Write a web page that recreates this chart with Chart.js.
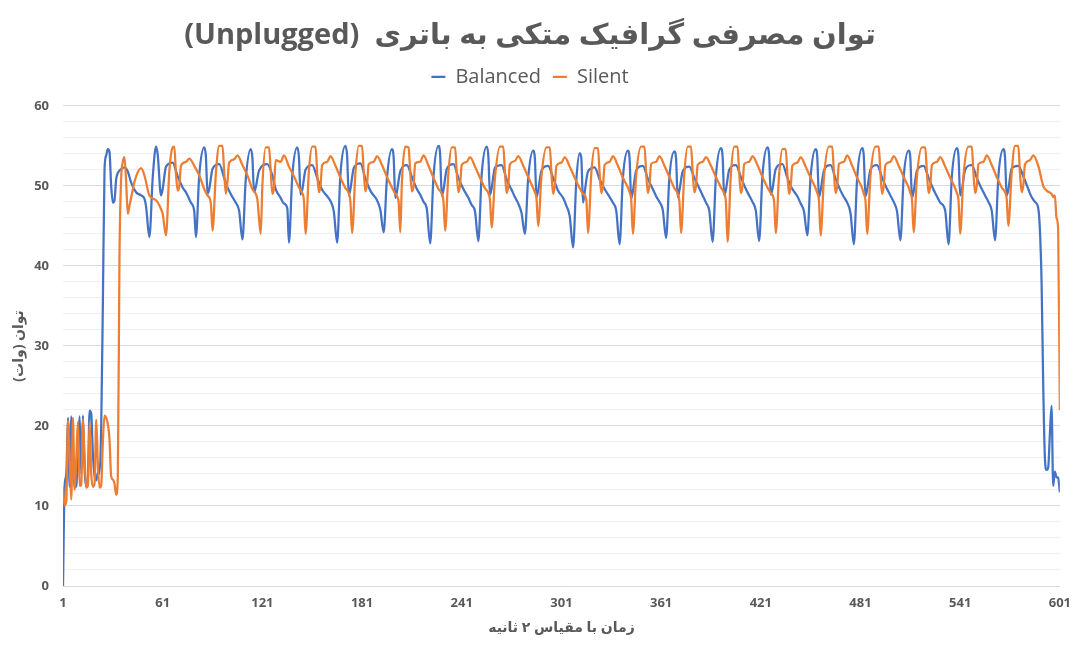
<!DOCTYPE html>
<html>
<head>
<meta charset="utf-8">
<script src="https://cdn.jsdelivr.net/npm/chart.js@4.4.1/dist/chart.umd.min.js"></script>
<style>
  html, body { margin: 0; padding: 0; background: #fff; }
  #wrap { width: 1080px; height: 648px; }
</style>
</head>
<body>
<div id="wrap"><canvas id="myChart" dir="rtl"></canvas></div>
<script>
// time index (2 s steps) and power (W)
const balancedTime = [
  1,2,3,4,5,6,7,8,9,10,11,12,13,14,15,16,17,18,19,20,21,22,23,24,25,26,27,28,29,30,31,32,33,34,36,38,40,42,45,48,50,51,
  53,55,57,58,60,61,63,67,70,73,75,78,80,
  81,83,86,87,88,89,91,95,98,100,103,105,107,
  109,111,114,115,116,117,119,124,127,129,132,134,136,
  137,139,142,143,144,145,147,151,154,157,160,162,164,
  166,168,171,172,173,174,176,180,183,186,188,190,192,
  194,196,199,200,201,202,204,208,211,214,216,218,220,
  222,224,227,228,229,230,232,236,239,242,245,247,249,
  251,253,256,257,258,259,261,265,268,271,273,275,277,
  279,281,284,285,286,287,289,293,296,299,302,304,306,
  308,310,312,313,314,315,317,321,324,327,330,332,334,
  336,338,341,342,343,344,346,350,353,356,358,360,362,
  364,366,369,370,371,372,374,378,381,384,386,388,390,
  392,394,397,398,399,400,402,406,409,412,414,416,418,
  420,422,425,426,427,428,430,434,437,440,443,445,447,
  449,451,454,455,456,457,459,463,466,469,471,473,475,
  477,479,482,483,484,485,487,491,494,497,499,501,503,
  505,507,510,511,512,513,515,519,522,525,527,529,532,
  534,536,539,540,541,542,544,548,551,554,556,558,560,
  562,564,567,568,569,570,572,576,579,582,584,586,588,
  589,590,591,592,593,594,595,596,597,598,599,600,601
];
const balancedPower = [
  0,12.5,14.0,21.0,12.4,21.2,15.0,12.3,12.5,17.0,21.2,14.0,21.3,14.5,12.4,13.5,21.9,21.5,16.5,13.8,13.2,14.2,14.0,20.0,35.4,52.1,53.8,54.6,54.2,50.0,47.9,48.2,50.8,51.6,52.1,52.3,51.8,50.4,49.2,48.8,48.4,47.4,
  43.6,51.0,54.9,53.9,48.8,49.6,52.4,52.9,51.2,49.8,49.2,47.9,46.8,
  43.6,51.3,54.8,53.7,49.0,49.6,52.1,52.7,51.0,49.8,48.6,47.9,46.9,
  43.3,50.8,54.6,53.5,49.2,49.8,51.9,52.7,51.3,49.6,48.5,47.8,47.2,
  42.9,51.2,54.8,53.6,48.9,49.5,52.0,52.6,51.0,49.5,48.7,48.1,46.8,
  42.9,51.5,55.0,53.8,48.8,49.6,52.2,52.8,50.9,49.4,48.8,48.2,47.0,
  44.2,51.0,54.6,53.6,48.5,49.3,51.8,52.6,51.1,49.6,48.9,48.0,47.1,
  42.8,51.2,55.0,53.9,48.7,49.5,52.1,52.7,51.0,49.6,48.5,47.6,46.8,
  43.1,51.4,54.9,53.8,48.9,49.7,52.3,52.6,50.8,49.5,48.6,47.8,46.6,
  44.0,51.0,54.4,53.5,48.6,49.4,51.9,52.5,51.0,49.4,48.5,47.5,46.2,
  42.3,50.8,54.1,53.4,47.9,49.2,51.8,52.3,50.8,49.6,48.6,47.9,46.9,
  42.7,51.0,54.4,53.5,48.4,49.3,51.9,52.5,50.9,49.6,48.7,48.0,47.0,
  43.5,51.1,54.3,53.4,48.6,49.4,51.8,52.4,51.0,49.7,48.8,47.9,46.9,
  43.0,51.2,54.7,53.7,48.8,49.5,52.0,52.6,51.1,49.6,48.8,48.0,46.9,
  43.1,51.3,54.8,53.8,48.9,49.6,52.1,52.7,51.0,49.6,48.7,47.8,46.8,
  43.8,51.2,54.6,53.6,48.6,49.4,51.9,52.6,50.9,49.4,48.6,47.9,46.6,
  42.7,51.0,54.7,53.7,48.7,49.5,52.0,52.6,51.0,49.6,48.8,48.0,46.8,
  43.2,51.1,54.4,53.5,48.5,49.3,51.9,52.5,51.0,49.5,48.7,47.9,46.9,
  42.7,51.2,54.7,53.7,48.8,49.5,52.0,52.6,51.0,49.6,48.8,48.0,46.9,
  43.2,51.2,54.6,53.6,48.8,49.5,52.2,52.5,51.2,49.6,48.6,48.0,47.2,
  44.5,38.0,25.0,16.0,14.5,14.8,19.0,22.5,12.5,14.3,13.6,13.5,11.7
];
const silentTime = [
  1,2,3,4,5,6,7,8,9,10,11,12,13,14,15,16,17,18,19,20,21,22,23,24,25,26,27,28,29,30,31,32,33,34,35,36,37,38,39,40,41,43,44,48,50,53,57,60,61,
  63,65,67,68,69,70,71,72,75,77,80,83,86,88,90,
  91,93,95,97,98,99,100,101,104,106,109,112,115,117,118,
  120,121,123,125,126,127,128,129,132,134,137,140,143,145,146,
  147,149,151,153,154,155,156,157,160,162,165,168,171,173,174,
  175,177,179,181,182,183,184,185,188,190,193,196,199,201,203,
  204,205,207,209,210,211,212,213,216,218,221,224,227,229,230,
  231,233,235,237,238,239,240,241,244,246,249,252,255,257,258,
  259,261,264,266,267,268,269,270,273,275,278,281,284,285,286,
  287,289,292,294,295,296,297,298,301,303,306,309,312,314,316,
  317,319,321,323,324,325,326,327,330,332,335,338,341,342,343,
  344,346,349,351,352,353,354,355,358,360,363,366,369,371,372,
  373,375,377,379,380,381,382,383,386,388,391,394,397,399,400,
  401,403,405,407,408,409,410,411,414,416,419,422,425,427,429,
  430,432,434,436,437,438,439,440,443,445,448,451,454,455,456,
  457,459,462,464,465,466,467,468,471,473,476,479,482,483,484,
  485,487,490,492,493,494,495,496,499,501,504,507,510,511,512,
  513,515,518,520,521,522,523,524,527,529,532,535,538,539,540,
  541,543,546,548,549,550,551,552,555,557,560,563,566,568,569,
  570,572,574,576,577,578,579,580,583,585,588,591,593,596,597,598,599,600,601
];
const silentPower = [
  12.4,10.1,10.6,20.7,16.0,10.8,21.0,12.0,16.0,20.5,12.5,12.6,20.8,16.0,12.3,12.6,20.5,14.0,12.4,12.8,20.8,15.0,12.3,12.6,18.0,21.3,21.0,20.2,18.3,13.7,13.3,12.8,11.4,13.7,41.3,50.9,53.0,53.6,50.5,46.5,47.5,49.5,50.5,52.2,51.3,48.8,48.2,47.1,46.5,
  43.8,51.8,54.8,54.9,51.5,49.4,50.0,52.5,53.0,53.4,52.5,51.3,49.6,48.8,47.8,
  44.4,51.5,55.0,55.0,51.8,49.0,50.5,52.9,53.3,53.8,52.6,51.3,49.6,49.0,48.3,
  44.0,50.0,54.8,54.8,52.0,49.0,49.8,53.2,53.0,53.8,52.4,51.2,49.8,49.1,48.2,
  44.0,51.8,54.9,54.9,51.6,49.2,50.0,52.6,53.0,53.7,52.5,51.0,49.7,49.1,48.0,
  44.1,51.6,55.0,55.0,51.8,49.3,50.2,52.7,53.0,53.7,52.6,51.1,49.8,49.0,48.0,
  44.2,50.5,54.9,54.8,51.7,49.3,50.0,52.8,53.0,53.8,52.5,51.0,49.6,49.0,48.1,
  44.4,51.7,54.8,54.8,51.6,49.2,50.1,52.6,53.0,53.6,52.4,51.0,49.7,49.1,48.2,
  44.8,51.0,54.9,54.9,51.7,49.1,50.0,52.7,53.1,53.7,52.5,51.1,49.7,49.2,48.4,
  45.0,51.2,54.8,54.8,51.6,49.0,50.0,52.5,52.9,53.6,52.4,51.0,49.7,49.0,48.2,
  44.1,51.6,54.7,54.7,51.5,49.1,50.0,52.6,53.0,53.7,52.5,51.0,49.8,49.2,48.3,
  44.0,51.3,54.9,54.9,51.6,49.1,50.1,52.7,53.0,53.7,52.5,51.1,49.7,49.0,48.1,
  44.1,51.6,54.9,54.9,51.7,49.2,50.0,52.6,53.0,53.6,52.5,51.1,49.8,49.0,48.0,
  43.0,51.5,54.9,54.9,51.6,49.1,50.0,52.7,53.0,53.7,52.6,51.1,49.8,49.1,48.1,
  44.1,51.3,54.6,54.6,51.5,49.0,49.9,52.5,52.9,53.6,52.4,51.0,49.7,49.1,48.2,
  43.8,51.0,54.9,54.9,51.7,49.1,50.0,52.7,53.0,53.8,52.5,51.0,49.7,49.0,48.2,
  44.0,51.2,54.9,54.9,51.6,49.0,50.0,52.6,53.0,53.7,52.5,51.1,49.8,49.1,48.3,
  44.2,51.2,54.8,54.8,51.6,49.1,50.0,52.6,53.0,53.6,52.4,51.0,49.7,49.1,48.2,
  44.0,51.3,54.9,54.9,51.6,49.1,50.0,52.7,53.0,53.8,52.6,51.1,49.8,49.2,48.4,
  45.0,51.6,55.0,55.0,51.6,49.2,50.1,52.7,53.2,53.8,52.5,50.0,49.4,49.0,48.6,48.8,46.0,44.5,22.0
];

const xTickLabels = [1, 61, 121, 181, 241, 301, 361, 421, 481, 541, 601];
const yTickLabels = [0, 10, 20, 30, 40, 50, 60];

const chartTitle = "توان مصرفی گرافیک متکی به باتری  (Unplugged)";
const xTitle = "زمان با مقیاس ۲ ثانیه";
const yTitle = "توان (وات)";

const fontFamily = "'Open Sans', 'DejaVu Sans', sans-serif";
const textGray = "#595959";

const toPoints = (xs, ys) => xs.map((x, i) => ({ x: x, y: ys[i] }));

const ctx = document.querySelector("#myChart").getContext("2d");

const data = {
    datasets: [{
        label: "Balanced",
        data: toPoints(balancedTime, balancedPower),
        borderColor: "#4472C4",
        backgroundColor: "#4472C4",
        borderWidth: 2.25,
        pointRadius: 0,
        cubicInterpolationMode: "monotone",
        order: 1,
    }, {
        label: "Silent",
        data: toPoints(silentTime, silentPower),
        borderColor: "#ED7D31",
        backgroundColor: "#ED7D31",
        borderWidth: 2.25,
        pointRadius: 0,
        cubicInterpolationMode: "monotone",
        order: 0,
    }]
}

const config = {
    type: 'line',
    data: data,
    options: {
        responsive: true,
        maintainAspectRatio: false,
        animation: false,
        layout: { padding: { left: 0, right: 20, top: 0, bottom: 0 } },
        plugins: {
            title: {
                display: true,
                text: chartTitle,
                color: textGray,
                font: { family: fontFamily, size: 29, weight: 'bold', lineHeight: 1.2 },
                padding: { top: 18, bottom: 2 },
            },
            subtitle: {
                // spacer between legend and plot
                display: true,
                text: "",
                weight: 500,
                font: { size: 9, lineHeight: 1 },
                padding: 0,
            },
            legend: {
                display: true,
                position: 'top',
                labels: {
                    usePointStyle: true,
                    pointStyle: 'line',
                    pointStyleWidth: 14,
                    padding: 12,
                    color: textGray,
                    font: { family: fontFamily, size: 20 },
                    sort: (a, b) => a.datasetIndex - b.datasetIndex,
                }
            },
            tooltip: { enabled: false },
        },
        scales: {
            x: {
                type: 'linear',
                min: 1,
                max: 601,
                afterBuildTicks: (scale) => {
                    scale.ticks = xTickLabels.map(v => ({ value: v }));
                },
                afterFit: (scale) => { scale.height = 62; },
                grid: { display: false, drawTicks: false },
                border: { display: false },
                ticks: {
                    autoSkip: false,
                    maxRotation: 0,
                    padding: 9,
                    color: textGray,
                    font: { family: fontFamily, size: 13, weight: 'bold' },
                },
                title: {
                    display: true,
                    text: xTitle,
                    color: textGray,
                    font: { family: fontFamily, size: 14, weight: 'bold', lineHeight: 1.2 },
                    padding: { top: 0, bottom: 11.6 },
                }
            },
            y: {
                min: 0,
                max: 60,
                afterFit: (scale) => { scale.width = 63; },
                grid: {
                    drawTicks: false,
                    color: (c) => (yTickLabels.includes(c.tick.value) ? "#d9d9d9" : "#f0f0f0"),
                    lineWidth: 1,
                },
                border: { display: false },
                ticks: {
                    stepSize: 2,
                    autoSkip: false,
                    padding: 14,
                    color: textGray,
                    font: { family: fontFamily, size: 13, weight: 'bold' },
                    callback: function (value) {
                        return yTickLabels.includes(value) ? value : "";
                    }
                },
                title: {
                    display: true,
                    text: yTitle,
                    color: textGray,
                    font: { family: fontFamily, size: 14, weight: 'bold', lineHeight: 1.2 },
                    padding: { top: 11, bottom: 0 },
                }
            }
        }
    }
}

const myChart = new Chart(ctx, config);
</script>
</body>
</html>
